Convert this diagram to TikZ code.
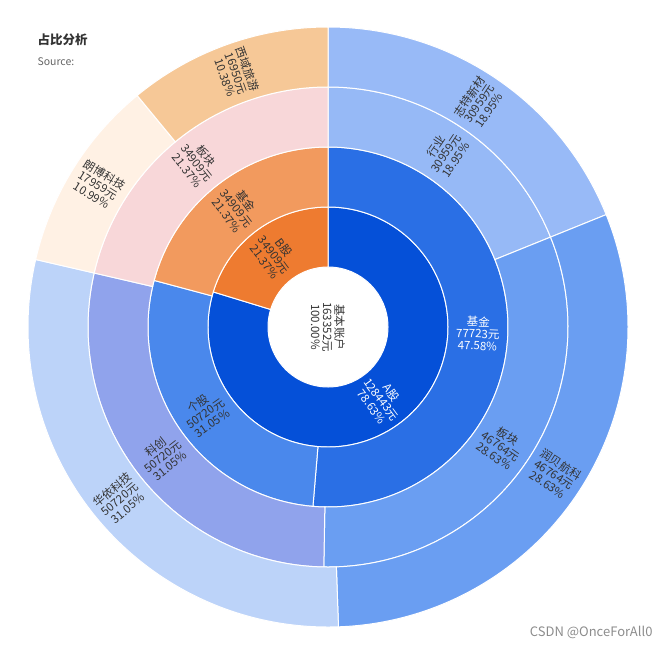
\documentclass[tikz,border=0pt]{standalone}
\usepackage{fontspec}
\setmainfont{Noto Sans CJK SC}
\definecolor{cAgu}{RGB}{5,80,216}
\definecolor{cJijinA}{RGB}{42,111,229}
\definecolor{cGegu}{RGB}{74,136,236}
\definecolor{cHangye}{RGB}{150,185,246}
\definecolor{cBankuaiA}{RGB}{106,158,242}
\definecolor{cKechuang}{RGB}{144,163,236}
\definecolor{cZhite}{RGB}{152,186,247}
\definecolor{cRunbei}{RGB}{106,158,242}
\definecolor{cHuayi}{RGB}{188,211,249}
\definecolor{cBgu}{RGB}{238,123,48}
\definecolor{cJijinB}{RGB}{242,154,94}
\definecolor{cBankuaiB}{RGB}{248,215,217}
\definecolor{cLangbo}{RGB}{255,241,228}
\definecolor{cXiyu}{RGB}{246,200,151}
\definecolor{ctxt}{RGB}{51,51,51}
% sector: colour, start angle, end angle, inner radius, outer radius
\newcommand\sector[5]{\path[fill=#1,draw=white,line width=1pt]
    (#2:#4) arc[start angle=#2,end angle=#3,radius=#4] -- (#3:#5)
    arc[start angle=#3,end angle=#2,radius=#5] -- cycle;}
\tikzset{seglabel/.style={align=center,font=\fontsize{11.5}{12}\selectfont,text=ctxt,inner sep=0pt},
  darklabel/.style={seglabel,text=white}}

\begin{document}
\begin{tikzpicture}[x=1pt,y=-1pt]
  \useasboundingbox (0,0) rectangle (671,648);
  \node[anchor=west,font=\bfseries\fontsize{12.5}{14}\selectfont,text=ctxt] (title) at (34,40) {占比分析};
  \node[anchor=west,font=\fontsize{10.5}{12}\selectfont,text=black!60] (source) at (34,62) {Source:};
  \node[anchor=east,font=\fontsize{13}{14}\selectfont,text=black!45] (mark) at (656,632) {CSDN @OnceForAll0};
  \begin{scope}[shift={(328,327)},yscale=-1]
    % inner ring
    \sector{cAgu}{90}{-197}{60}{120}
    \sector{cBgu}{163}{90}{60}{120}
    % second ring
    \sector{cJijinA}{90}{-94.8}{120}{180}
    \sector{cGegu}{-94.8}{-195}{120}{180}
    \sector{cJijinB}{165}{90}{120}{180}
    % third ring
    \sector{cHangye}{90}{22}{180}{240}
    \sector{cBankuaiA}{22}{-91}{180}{240}
    \sector{cKechuang}{-91}{-193}{180}{240}
    \sector{cBankuaiB}{167}{90}{180}{240}
    % outer ring
    \sector{cZhite}{90}{22}{240}{300}
    \sector{cRunbei}{22}{-88}{240}{300}
    \sector{cHuayi}{-88}{-193}{240}{300}
    \sector{cLangbo}{167}{129.5}{240}{300}
    \sector{cXiyu}{129.5}{90}{240}{300}
    % labels
    \node[seglabel,rotate=-90] (root) at (0,0) {基本账户\\163352元\\100.00\%};
    \node[darklabel,rotate=-53.5] (agu) at (-53.5:90) {A股\\128443元\\78.63\%};
    \node[seglabel,rotate=-53.5] (bgu) at (126.5:90) {B股\\34909元\\21.37\%};
    \node[darklabel,rotate=-2.4] (jijinA) at (-2.4:150) {基金\\77723元\\47.58\%};
    \node[seglabel,rotate=35] (gegu) at (-145:150) {个股\\50720元\\31.05\%};
    \node[seglabel,rotate=-52.5] (jijinB) at (127.5:150) {基金\\34909元\\21.37\%};
    \node[seglabel,rotate=56] (hangye) at (56:210) {行业\\30959元\\18.95\%};
    \node[seglabel,rotate=-34.5] (bankuaiA) at (-34.5:210) {板块\\46764元\\28.63\%};
    \node[seglabel,rotate=38] (kechuang) at (-142:210) {科创\\50720元\\31.05\%};
    \node[seglabel,rotate=-51.5] (bankuaiB) at (128.5:210) {板块\\34909元\\21.37\%};
    \node[seglabel,rotate=56] (zhite) at (56:270) {志特新材\\30959元\\18.95\%};
    \node[seglabel,rotate=-33] (runbei) at (-33:270) {润贝航科\\46764元\\28.63\%};
    \node[seglabel,rotate=39.5] (huayi) at (-140.5:270) {华依科技\\50720元\\31.05\%};
    \node[seglabel,rotate=-31.75] (langbo) at (148.25:270) {朗博科技\\17959元\\10.99\%};
    \node[seglabel,rotate=-70.25] (xiyu) at (109.75:270) {西域旅游\\16950元\\10.38\%};
  \end{scope}
\end{tikzpicture}
\end{document}
